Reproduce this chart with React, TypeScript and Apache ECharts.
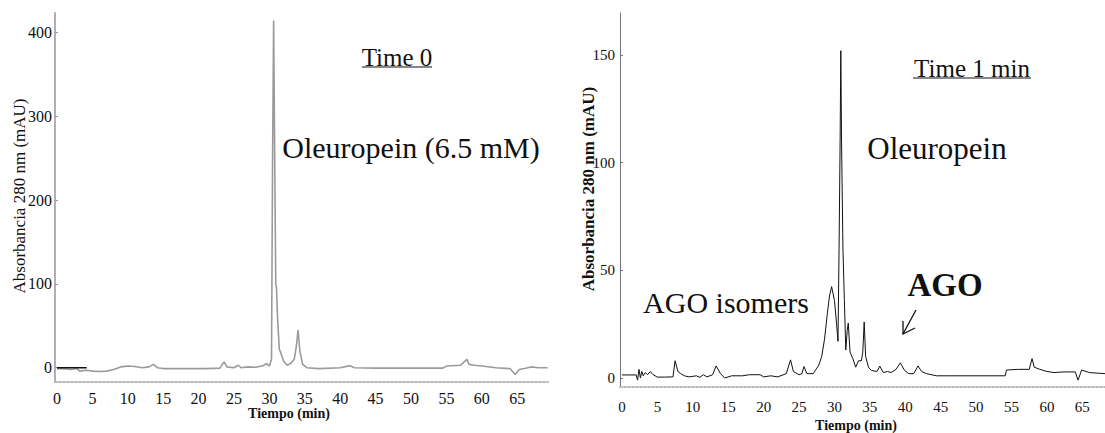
import React, { useEffect, useRef } from "react";
import * as echarts from "echarts";

// ---- Data: left chromatogram (Time 0) ----
const leftTime = [0, 1, 2, 2.8, 3.2, 4.2, 5, 6, 7, 8, 9, 10, 11, 12, 13, 13.6, 14.2, 15, 18, 21, 23, 23.6, 24, 25, 25.6, 26, 27, 28, 29, 29.6, 30, 30.3, 30.45, 30.6, 30.75, 30.9, 31.0, 31.15, 31.4, 31.6, 32.0, 32.5, 33.0, 33.5, 33.8, 34.05, 34.3, 34.7, 35.3, 37, 40, 41.4, 42, 45, 50, 54.5, 55, 57, 57.9, 58.2, 59, 60, 62, 64, 64.7, 65.3, 66, 67, 68, 69.3];
const leftAbs = [-1, -1, -2, -1, -4, -3, -4, -4.5, -4, -2, 1, 2, 1.5, 0, 1, 4, 0, -1, -1, -1, -0.5, 7, 1, 0, 3, 0, 1, 0.5, 2, 5, 2, 10, 250, 414, 250, 100, 96, 60, 22, 18, 8, 3, 5, 10, 25, 45, 20, 4, 0, -1, 0, 2.5, 0, -0.5, -0.5, -0.5, 2, 3, 10, 4, 3, 2, 0, -1, -8, -2, -1, 1, 0, 0];
const leftMarkTime = [0, 4.2];
const leftMarkAbs = [0, 0];

// ---- Data: right chromatogram (Time 1 min) ----
const rightTime = [0, 1, 2, 2.2, 2.4, 2.6, 2.8, 3.0, 3.3, 3.6, 4.0, 4.4, 5, 6, 7.2, 7.5, 7.9, 8.3, 8.8, 9.5, 10.5, 11, 11.5, 12, 12.8, 13.3, 13.9, 14.5, 15.5, 17, 18, 19.5, 20, 21, 22, 23.2, 23.8, 24.2, 25, 25.4, 25.7, 26.1, 27, 27.4, 27.8, 28.2, 28.6, 29.0, 29.3, 29.6, 30.0, 30.3, 30.5, 30.65, 30.8, 30.9, 31.0, 31.2, 31.4, 31.6, 31.8, 31.95, 32.2, 32.6, 33.0, 33.4, 33.8, 34.0, 34.2, 34.4, 34.8, 35.2, 36, 36.4, 36.9, 37.5, 38, 38.7, 39.3, 39.9, 40.5, 41.2, 41.8, 42.3, 43, 44.4, 46, 50, 54.1, 54.3, 56, 57.5, 57.9, 58.2, 59, 60, 61, 62.3, 64, 64.4, 64.9, 66, 68.2];
const rightAbs = [1.4, 1.4, 1.4, -1, 4, 0, 3, 1, 2.5, 1.5, 3, 1.5, 0.4, 0.4, 0.5, 8, 3, 2, 1, 0.5, 1, 0.3, 1.5, 0.5, 1.5, 5.6, 2, 0, 1, 1, 1.5, 1.5, 0.5, 1, 0.5, 2, 8.4, 3, 1.5, 2, 5.3, 2, 2, 4, 6, 10, 18, 30, 38, 42.4, 36, 25, 17, 60, 110, 152, 110, 60, 36, 13, 22, 25.5, 12, 9, 5, 8, 8, 12, 26, 10, 5, 3.5, 3, 5.5, 2.5, 3, 2.5, 4, 7, 3.5, 2, 2, 5.6, 3, 2, 1, 1, 1, 1, 3.7, 4, 4, 9, 5, 4, 3, 2.5, 2.8, 2.8, -1, 3.7, 2.5, 2];

// ---- Tick labels ----
const xTicks = [0, 5, 10, 15, 20, 25, 30, 35, 40, 45, 50, 55, 60, 65];
const leftYTicks = [0, 100, 200, 300, 400];
const rightYTicks = [0, 50, 100, 150];

const zip = (xs: number[], ys: number[]) => xs.map((x, i) => [x, ys[i]]);

const SERIF = "'Liberation Serif', 'Times New Roman', serif";

export default function App() {
  const ref = useRef<HTMLDivElement>(null);
  useEffect(() => {
    if (!ref.current) return;
    const chart = echarts.init(ref.current, undefined, { renderer: "svg" });
    const xAxisBase = (gridIndex: number, max: number, labelMargin: number, fontSize: number) => ({
      type: "value",
      gridIndex,
      min: -0.28,
      max,
      axisLine: { show: true, onZero: false, lineStyle: { color: "#b8b8b8", width: 2, type: "dotted" } },
      axisTick: { show: false },
      splitLine: { show: false },
      axisLabel: {
        customValues: xTicks,
        color: "#111",
        fontFamily: SERIF,
        fontSize,
        margin: labelMargin,
      },
    });
    chart.setOption({
      animation: false,
      backgroundColor: "#fff",
      grid: [
        { left: 55, top: 13, width: 493, height: 369 },
        { left: 620, top: 13, width: 485, height: 374 },
      ],
      xAxis: [xAxisBase(0, 69.35, 8, 16), xAxisBase(1, 68.2, 12, 15)],
      yAxis: [
        {
          type: "value",
          gridIndex: 0,
          min: -17,
          max: 423,
          axisLine: { show: true, onZero: false, lineStyle: { color: "#b0b0b0", width: 2 } },
          axisTick: { show: true, inside: true, length: 3, customValues: leftYTicks, lineStyle: { color: "#999" } },
          splitLine: { show: false },
          axisLabel: { customValues: leftYTicks, color: "#111", fontFamily: SERIF, fontSize: 16, margin: 3 },
        },
        {
          type: "value",
          gridIndex: 1,
          min: -4.2,
          max: 169.5,
          axisLine: { show: true, onZero: false, lineStyle: { color: "#777", width: 1 } },
          axisTick: { show: true, inside: true, length: 3, customValues: rightYTicks, lineStyle: { color: "#777" } },
          splitLine: { show: false },
          axisLabel: { customValues: rightYTicks, color: "#111", fontFamily: SERIF, fontSize: 15, margin: 5 },
        },
      ],
      series: [
        {
          type: "line",
          xAxisIndex: 0,
          yAxisIndex: 0,
          data: zip(leftTime, leftAbs),
          showSymbol: false,
          lineStyle: { color: "#9a9a9a", width: 1.6 },
        },
        {
          type: "line",
          xAxisIndex: 0,
          yAxisIndex: 0,
          data: zip(leftMarkTime, leftMarkAbs),
          showSymbol: false,
          lineStyle: { color: "#111", width: 1.3 },
        },
        {
          type: "line",
          xAxisIndex: 1,
          yAxisIndex: 1,
          data: zip(rightTime, rightAbs),
          showSymbol: false,
          lineStyle: { color: "#111", width: 1 },
        },
      ],
      graphic: [
        { type: "text", x: 19, y: 196, rotation: Math.PI / 2, style: { text: "Absorbancia 280 nm (mAU)", font: `17px ${SERIF}`, fill: "#111", align: "center", verticalAlign: "middle" } },
        { type: "text", x: 289, y: 413, style: { text: "Tiempo (min)", font: `bold 14px ${SERIF}`, fill: "#111", align: "center", verticalAlign: "middle" } },
        { type: "text", x: 397, y: 57, style: { text: "Time 0", font: `25px ${SERIF}`, fill: "#111", align: "center", verticalAlign: "middle" } },
        { type: "line", shape: { x1: 362, y1: 67, x2: 432, y2: 67 }, style: { stroke: "#111", lineWidth: 1 } },
        { type: "text", x: 411, y: 147, style: { text: "Oleuropein (6.5 mM)", font: `30px ${SERIF}`, fill: "#111", align: "center", verticalAlign: "middle" } },

        { type: "text", x: 588, y: 189, rotation: Math.PI / 2, style: { text: "Absorbancia 280 nm (mAU)", font: `bold 17px ${SERIF}`, fill: "#111", align: "center", verticalAlign: "middle" } },
        { type: "text", x: 856, y: 425, style: { text: "Tiempo (min)", font: `bold 14px ${SERIF}`, fill: "#111", align: "center", verticalAlign: "middle" } },
        { type: "text", x: 972, y: 68, style: { text: "Time 1 min", font: `25px ${SERIF}`, fill: "#111", align: "center", verticalAlign: "middle" } },
        { type: "line", shape: { x1: 913, y1: 78, x2: 1031, y2: 78 }, style: { stroke: "#111", lineWidth: 1 } },
        { type: "text", x: 937, y: 148, style: { text: "Oleuropein", font: `31px ${SERIF}`, fill: "#111", align: "center", verticalAlign: "middle" } },
        { type: "text", x: 726, y: 302, style: { text: "AGO isomers", font: `30px ${SERIF}`, fill: "#111", align: "center", verticalAlign: "middle" } },
        { type: "text", x: 945, y: 285, style: { text: "AGO", font: `bold 33px ${SERIF}`, fill: "#111", align: "center", verticalAlign: "middle" } },
        { type: "line", shape: { x1: 916, y1: 310, x2: 903, y2: 334 }, style: { stroke: "#111", lineWidth: 1.3 } },
        { type: "polyline", shape: { points: [[903, 321], [903, 334], [915, 328]] }, style: { stroke: "#111", lineWidth: 1.3, fill: null } },
      ],
    });
    return () => chart.dispose();
  }, []);
  return (
    <div
      ref={ref}
      style={{ position: "fixed", left: 0, top: 0, width: 1105, height: 433, background: "#fff" }}
    />
  );
}
